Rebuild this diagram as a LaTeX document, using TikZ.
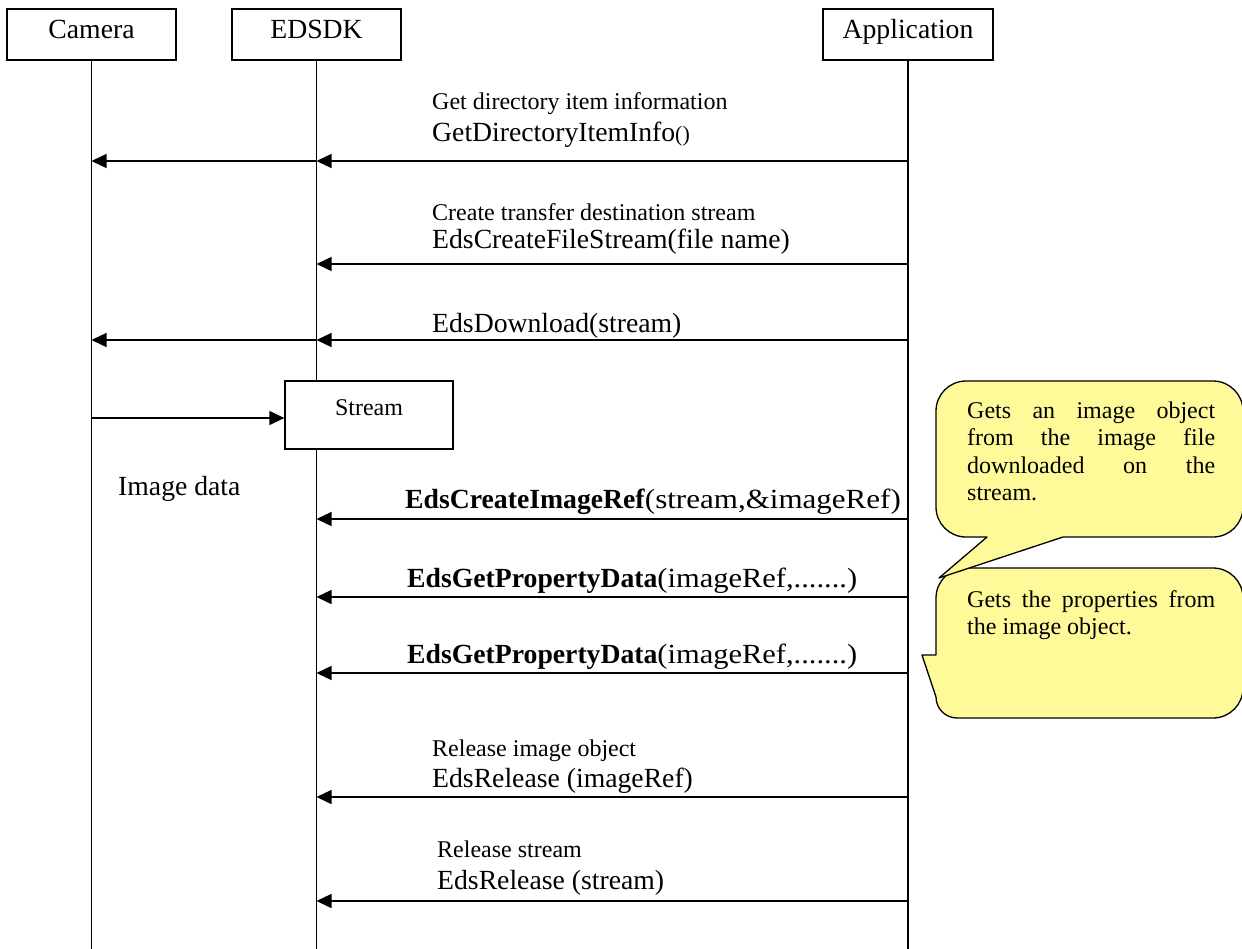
\documentclass[tikz,border=0pt]{standalone}
\usepackage{fontspec}
\usepackage{graphicx}
\setmainfont{Liberation Serif}
\usetikzlibrary{arrows.meta}
\hbadness=10000
\begin{document}
\begin{tikzpicture}[x=1pt,y=-1pt,
  bigfont/.style={font=\fontsize{27.7}{33}\selectfont},
  smallfont/.style={font=\fontsize{24}{27.5}\selectfont},
  hdbox/.style={draw, line width=1.3pt, minimum width=169pt, minimum height=51pt, inner sep=0pt, text height=18pt, text depth=10pt, bigfont},
  lifeline/.style={line width=1.3pt},
  msgarrow/.style={line width=1.3pt, -{Triangle[length=15pt,width=14pt]}},
  lbl/.style={anchor=base west, inner sep=0pt},
  callout/.style={fill=yellow!40, draw, line width=1.3pt, line join=round},
  ctext/.style={anchor=north west, inner sep=0pt, text width=248pt, align=justify, font=\fontsize{24}{27.5}\selectfont}
]
\useasboundingbox (0,0) rectangle (1242,948);

% header boxes
\node[hdbox] (cam) at (91.5,34.5) {Camera};
\node[hdbox] (sdk) at (316.5,34.5) {EDSDK};
\node[hdbox, minimum width=170pt] (app) at (908,34.5) {Application};

% lifelines
\coordinate (camEnd) at (cam.south |- 0,950);
\coordinate (sdkEnd) at (sdk.south |- 0,950);
\coordinate (appEnd) at (app.south |- 0,950);
\draw[lifeline] (cam.south) -- (camEnd);
\draw[lifeline] (sdk.south) -- (sdkEnd);
\draw[lifeline] (app.south) -- (appEnd);

% stream box
\node[draw, fill=white, line width=1.3pt, minimum width=168pt, minimum height=68pt, inner sep=0pt, text height=12pt, text depth=12pt, smallfont] (stream) at (369,415) {Stream};

% message end points
\foreach \n/\y in {1/161,2/264,3/340,4/519,5/597,6/673,7/797,8/901}{
  \coordinate (A\n) at (app.south |- 0,\y);
  \coordinate (S\n) at (sdk.south |- 0,\y);
  \coordinate (C\n) at (cam.south |- 0,\y);
}
\coordinate (Cst) at (cam.south |- 0,418);

% messages
\draw[msgarrow] (A1) -- (S1);
\draw[msgarrow] (S1) -- (C1);
\draw[msgarrow] (A2) -- (S2);
\draw[msgarrow] (A3) -- (S3);
\draw[msgarrow] (S3) -- (C3);
\draw[msgarrow] (Cst) -- (Cst -| stream.west);
\draw[msgarrow] (A4) -- (S4);
\draw[msgarrow] (A5) -- (S5);
\draw[msgarrow] (A6) -- (S6);
\draw[msgarrow] (A7) -- (S7);
\draw[msgarrow] (A8) -- (S8);

% labels
\node[lbl, smallfont] (l1a) at (432,109) {Get directory item information};
\node[lbl, bigfont] (l1b) at (432,141) {GetDirectoryItemInfo{\fontsize{22}{26}\selectfont()}};
\node[lbl, smallfont] (l2a) at (432,220) {Create transfer destination stream};
\node[lbl, bigfont] (l2b) at (432,248) {EdsCreateFileStream(file name)};
\node[lbl, bigfont] (l3) at (432,332) {EdsDownload(stream)};
\node[lbl, bigfont] (imgdata) at (118,495) {Image data};
\node[lbl, bigfont] (l4) at (405,508) {\textbf{EdsCreateImageRef}\scalebox{1.12}[1]{(stream,\&imageRef)}};
\node[lbl, bigfont] (l5) at (407,587) {\textbf{EdsGetPropertyData}\scalebox{1.1}[1]{(imageRef,.......)}};
\node[lbl, bigfont] (l6) at (407,663) {\textbf{EdsGetPropertyData}\scalebox{1.1}[1]{(imageRef,.......)}};
\node[lbl, smallfont] (l7a) at (432,756) {Release image object};
\node[lbl, bigfont] (l7b) at (432,787) {EdsRelease (imageRef)};
\node[lbl, smallfont] (l8a) at (437,857) {Release stream};
\node[lbl, bigfont] (l8b) at (437,889) {EdsRelease (stream)};

% callout 2
\path[callout] (966,568) -- (1213,568) arc[start angle=90,end angle=0,radius=30pt]
  -- (1243,688) arc[start angle=0,end angle=-90,radius=30pt]
  -- (957,718) arc[start angle=270,end angle=180,radius=21pt]
  -- (936,697) -- (922,655) -- (936,655)
  -- (936,598) arc[start angle=180,end angle=90,radius=30pt] -- cycle;
% callout 1
\path[callout] (966,381) -- (1213,381) arc[start angle=90,end angle=0,radius=30pt]
  -- (1243,507) arc[start angle=0,end angle=-90,radius=30pt]
  -- (1063,537) -- (939,578) -- (987,537)
  -- (966,537) arc[start angle=270,end angle=180,radius=30pt]
  -- (936,411) arc[start angle=180,end angle=90,radius=30pt] -- cycle;

\node[ctext] (c1) at (967,398.75) {\strut Gets an image object\linebreak from the image file\linebreak downloaded on the\linebreak stream.};
\node[ctext] (c2) at (967,587.75) {\strut Gets the properties from\linebreak the image object.};
\end{tikzpicture}
\end{document}
